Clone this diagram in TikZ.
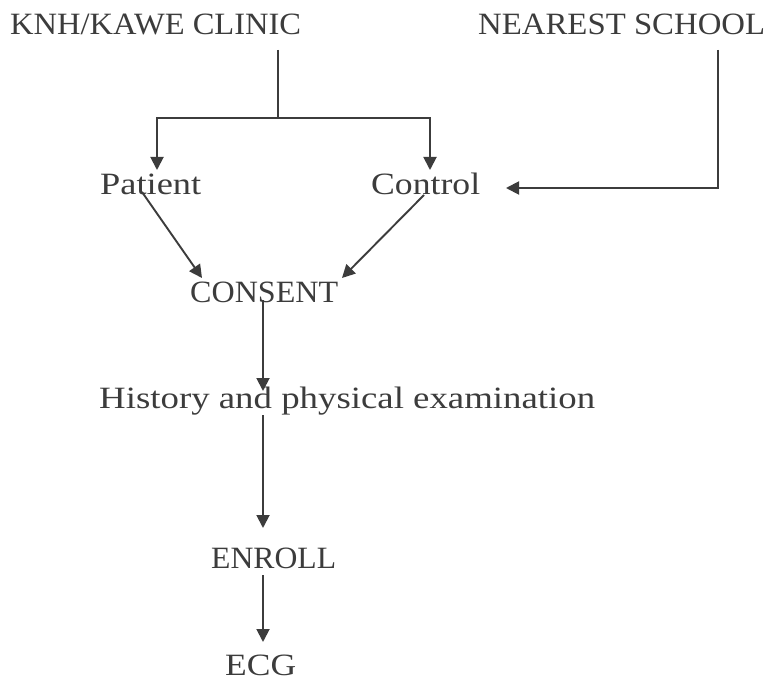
\documentclass[tikz,border=0pt]{standalone}
\usepackage{fontspec}
\setmainfont{Liberation Serif}
\usetikzlibrary{arrows.meta}
\definecolor{ink}{HTML}{3C3C3C}
\newcommand{\fitw}[2]{\resizebox{#1}{\height}{#2}}
\begin{document}
\begin{tikzpicture}[x=1pt,y=-1pt,
  lbl/.style={inner sep=0pt, anchor=base west, text=ink, font=\fontsize{31}{37}\selectfont},
  ln/.style={draw=ink, line width=1.9pt},
  conn/.style={ln, -{Triangle[length=13pt,width=13pt]}}]
\useasboundingbox[fill=white] (0,0) rectangle (769,682);
\node[lbl] (knh) at (10,35) {\fitw{291pt}{KNH/KAWE CLINIC}};
\node[lbl] (school) at (478,35) {\fitw{287pt}{NEAREST SCHOOL}};
\node[lbl] (patient) at (100,195) {\fitw{101pt}{Patient}};
\node[lbl] (control) at (371,195) {\fitw{109pt}{Control}};
\node[lbl] (consent) at (190,302) {\fitw{148pt}{CONSENT}};
\node[lbl] (history) at (99,408) {\fitw{496pt}{History and physical examination}};
\node[lbl] (enroll) at (211,568) {\fitw{125pt}{ENROLL}};
\node[lbl] (ecg) at (225,675) {\fitw{71pt}{ECG}};
% connector ends
\coordinate (knhout) at (278,50);
\coordinate (split) at (278,118);
\coordinate (patin) at (157,170);
\coordinate (conin) at (430,170);
\coordinate (schout) at (718,50);
\coordinate (conside) at (506,188);
\coordinate (patout) at (142,192);
\coordinate (conout) at (424,195);
\coordinate (consinl) at (202,278);
\coordinate (consinr) at (342,278);
\coordinate (consout) at (263,300);
\coordinate (histin) at (263,391);
\coordinate (histout) at (263,415);
\coordinate (enrin) at (263,528);
\coordinate (enrout) at (263,575);
\coordinate (ecgin) at (263,642);
\draw[ln] (knhout) -- (split);
\draw[conn] (split) -| (patin);
\draw[conn] (split) -| (conin);
\draw[conn] (schout) |- (conside);
\draw[conn] (patout) -- (consinl);
\draw[conn] (conout) -- (consinr);
\draw[conn] (consout) -- (histin);
\draw[conn] (histout) -- (enrin);
\draw[conn] (enrout) -- (ecgin);
\end{tikzpicture}
\end{document}
